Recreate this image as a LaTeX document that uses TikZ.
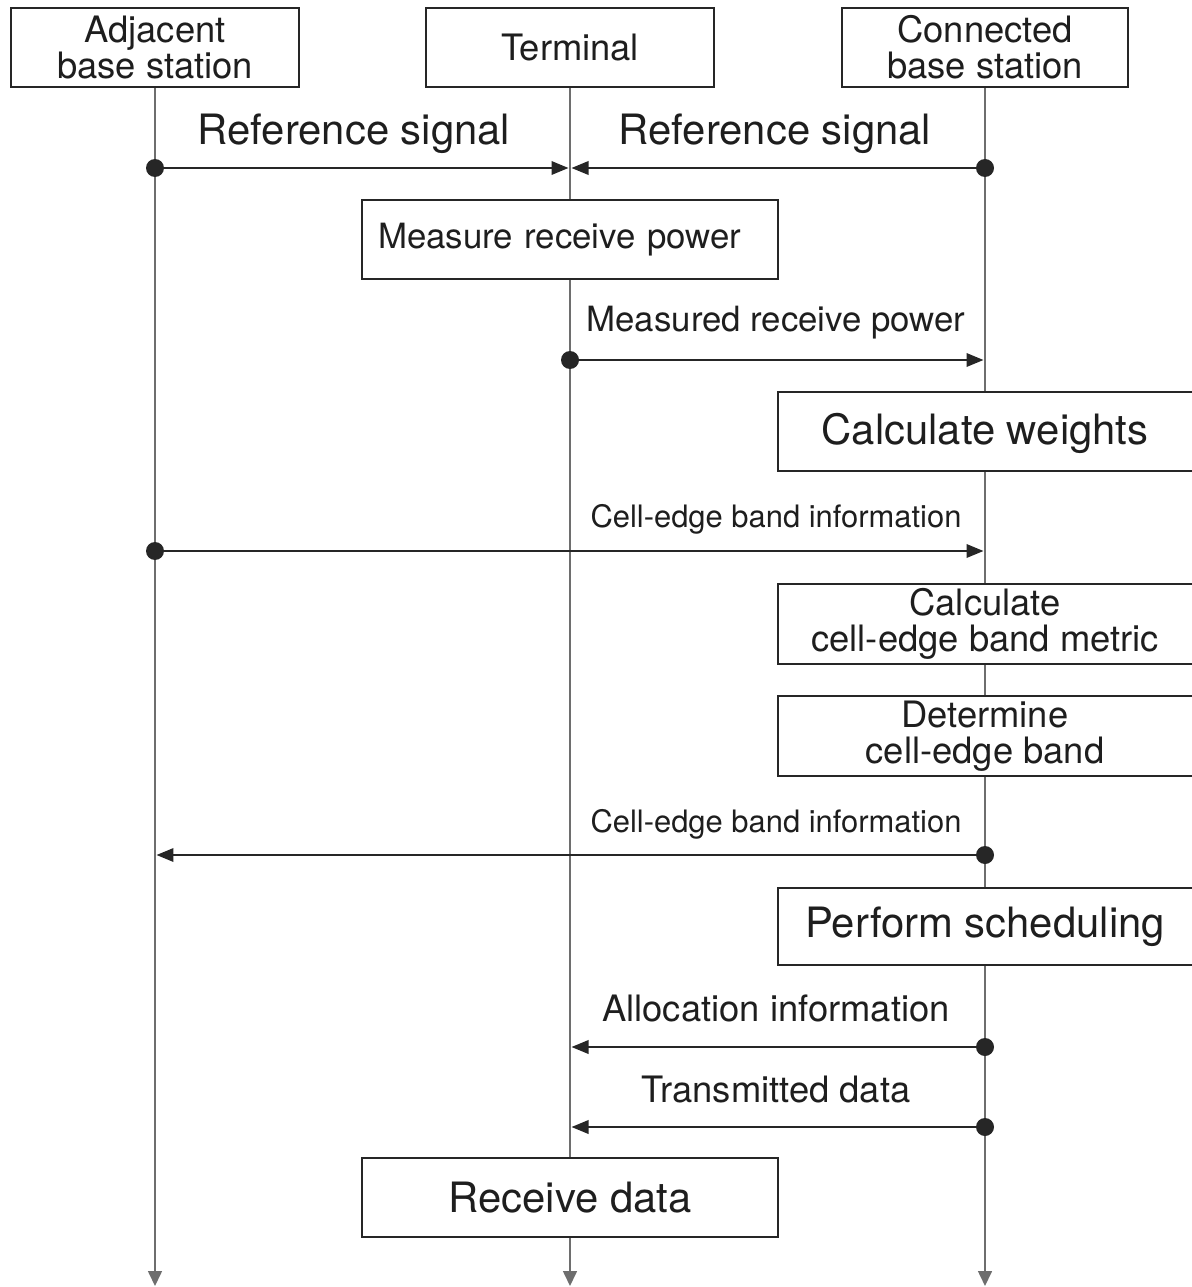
\documentclass[tikz,border=0pt]{standalone}
\usepackage{fontspec}
\setmainfont{TeX Gyre Heros}
\usetikzlibrary{arrows.meta}
\definecolor{txt}{HTML}{1E1E1E}
\definecolor{lifegray}{HTML}{6E6E6E}
\definecolor{linec}{HTML}{262626}
\begin{document}
\begin{tikzpicture}[x=0.02cm,y=-0.02cm,
  head/.style={draw=linec, line width=1.2pt, fill=white, minimum width=5.76cm, minimum height=1.58cm,
    align=center, text=txt, inner sep=0pt, font=\fontsize{20.7}{20.5}\selectfont},
  procbox/.style={draw=linec, line width=1.2pt, fill=white, minimum height=1.58cm, inner sep=0pt, text=txt},
  rbox/.style={fill=white, minimum width=8.28cm, minimum height=1.58cm, inner sep=0pt, align=center, text=txt},
  boxline/.style={draw=linec, line width=1.2pt},
  life/.style={draw=lifegray, line width=0.9pt, -{Triangle[length=0.3cm,width=0.28cm,fill=lifegray]}},
  msg/.style={draw=linec, line width=1.1pt, -{Triangle[length=0.34cm,width=0.27cm]}},
  lbl/.style={anchor=base, text=txt, inner sep=0pt},
  fbig/.style={font=\fontsize{23.8}{23.8}\selectfont},
  fmid/.style={font=\fontsize{20.7}{20.5}\selectfont},
  fsm/.style={font=\fontsize{19.8}{19.8}\selectfont},
  fxs/.style={font=\fontsize{17.6}{17.6}\selectfont}
]
\useasboundingbox (0,0) rectangle (1192,1287);
\clip (0,0) rectangle (1192,1287);

% heads
\node[head] (adj) at (155,47.5) {Adjacent\\base station};
\node[head] (term) at (570,47.5) {Terminal};
\node[head, minimum width=5.72cm] (conn) at (985,47.5) {Connected\\base station};

% lifelines
\coordinate (adjEnd) at (155,1286);
\coordinate (termEnd) at (570,1286);
\coordinate (connEnd) at (985,1286);
\draw[life] (adj.south) -- (adjEnd);
\draw[life] (term.south) -- (termEnd);
\draw[life] (conn.south) -- (connEnd);

% terminal boxes
\node[procbox, fsm, minimum width=8.32cm, text width=7.68cm, inner xsep=0.32cm, align=left] (mrp) at (570,239.5) {Measure receive power};
\node[procbox, fbig, minimum width=8.32cm] (rd) at (570,1197.5) {Receive data};

% connected base station boxes (cut at right edge)
\node[rbox, fbig, text depth=0.1cm] (cw) at (985,431.5) {Calculate weights};
\draw[boxline] ([xshift=0.4cm]cw.north east) -- (cw.north west) -- (cw.south west) -- ([xshift=0.4cm]cw.south east);
\node[rbox, fmid, minimum height=1.6cm] (cm) at (985,624) {Calculate\\cell-edge band metric};
\draw[boxline] ([xshift=0.4cm]cm.north east) -- (cm.north west) -- (cm.south west) -- ([xshift=0.4cm]cm.south east);
\node[rbox, fmid, minimum height=1.6cm] (dt) at (985,736) {Determine\\cell-edge band};
\draw[boxline] ([xshift=0.4cm]dt.north east) -- (dt.north west) -- (dt.south west) -- ([xshift=0.4cm]dt.south east);
\node[rbox, fbig, minimum height=1.54cm] (ps) at (985,926.5) {Perform scheduling};
\draw[boxline] ([xshift=0.4cm]ps.north east) -- (ps.north west) -- (ps.south west) -- ([xshift=0.4cm]ps.south east);

% message end points
\coordinate (a1) at (155,168);
\coordinate (t1) at (570,168);
\coordinate (c1) at (985,168);
\coordinate (t2) at (570,360);
\coordinate (c2) at (985,360);
\coordinate (a3) at (155,551);
\coordinate (c3) at (985,551);
\coordinate (c4) at (985,855);
\coordinate (a4) at (155,855);
\coordinate (c5) at (985,1047);
\coordinate (t5) at (570,1047);
\coordinate (c6) at (985,1127);
\coordinate (t6) at (570,1127);

% messages
\draw[msg] (a1) -- ([xshift=-0.03cm]t1);
\draw[msg] (c1) -- ([xshift=0.03cm]t1);
\draw[msg] (t2) -- ([xshift=-0.03cm]c2);
\draw[msg] (a3) -- ([xshift=-0.03cm]c3);
\draw[msg] (c4) -- ([xshift=0.03cm]a4);
\draw[msg] (c5) -- ([xshift=0.03cm]t5);
\draw[msg] (c6) -- ([xshift=0.03cm]t6);
\foreach \p in {a1,c1,t2,a3,c4,c5,c6} \fill[linec] (\p) circle[radius=0.18cm];

% labels
\node[lbl, fbig] (l1) at (354,145) {Reference signal};
\node[lbl, fbig] (l2) at (775,145) {Reference signal};
\node[lbl, fsm] (l3) at (776,332) {Measured receive power};
\node[lbl, fxs] (l4) at (776,527) {Cell-edge band information};
\node[lbl, fxs] (l5) at (776,832) {Cell-edge band information};
\node[lbl, fmid] (l6) at (776,1021) {Allocation information};
\node[lbl, fmid] (l7) at (776,1102) {Transmitted data};
\end{tikzpicture}
\end{document}
